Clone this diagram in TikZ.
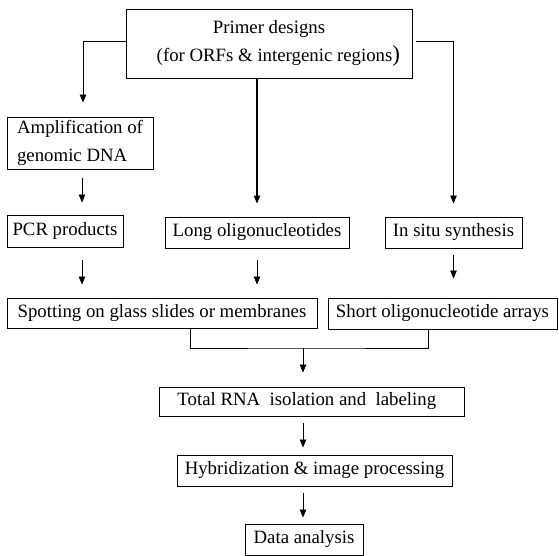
\documentclass[tikz,border=0pt]{standalone}
\usepackage{fontspec}
\setmainfont{Liberation Serif}
\usetikzlibrary{arrows.meta, calc}

\tikzset{
	box/.style={draw, line width=0.9pt, inner sep=0pt, align=center, font=\fontsize{18.8}{28}\selectfont},
	flow/.style={line width=0.8pt, -{Triangle[length=8pt,width=6.5pt]}},
	link/.style={line width=0.8pt}
}

\begin{document}
\begin{tikzpicture}[x=1pt,y=-1pt]

	\useasboundingbox (0,0) rectangle (559,556);

	\node [box, minimum width=286pt, minimum height=69pt] (primer) at (269,43.5) {Primer designs\\ \ \ \ \ (for ORFs \& intergenic regions{\fontsize{23}{28}\selectfont)}};
	\node [box, align=left, minimum width=146pt, minimum height=52pt] (amp) at (80,143) {Amplification of\\genomic DNA};
	\node [box, minimum width=116pt, minimum height=32pt] (pcr) at (65,231) {PCR products};
	\node [box, minimum width=184pt, minimum height=31pt] (long) at (257,232.5) {Long oligonucleotides};
	\node [box, minimum width=137pt, minimum height=31pt] (insitu) at (453.5,232.5) {In situ synthesis};
	\node [box, minimum width=310pt, minimum height=30pt] (spot) at (162,313) {Spotting on glass slides or membranes};
	\node [box, minimum width=229pt, minimum height=31pt] (short) at (442.5,313.5) {Short oligonucleotide arrays};
	\node [box, minimum width=305pt, minimum height=29pt] (rna) at (311.5,401.5) {Total RNA\ \ isolation and\ \ labeling\ \ };
	\node [box, minimum width=275pt, minimum height=31pt] (hyb) at (314.5,470.5) {Hybridization \& image processing};
	\node [box, minimum width=118pt, minimum height=31pt] (data) at (304,539.5) {Data analysis};

	\coordinate (jn) at (303,348);

	% from the primer designs
	\draw [flow, shorten >=14pt] ($(primer.west)+(0,-2.5)$) -| ($(amp.north)+(3,0)$);
	\draw [flow, line width=1.1pt, shorten >=13pt] (primer.south -| long.north) -- (long.north);
	\draw [flow, shorten >=13pt] ($(primer.east)+(4,-2.5)$) -| (insitu.north);

	% left column
	\draw [flow, shorten <=9pt, shorten >=12pt] ($(amp.south)+(2,0)$) -- ($(amp.south |- pcr.north)+(2,0)$);
	\draw [flow, shorten <=13pt, shorten >=13pt] ($(amp.south |- pcr.south)+(2,0)$) -- ($(amp.south |- spot.north)+(2,0)$);

	% middle and right columns
	\draw [flow, shorten <=12pt, shorten >=13pt] (long.south) -- (long.south |- spot.north);
	\draw [flow, shorten <=7pt, shorten >=19pt] (insitu.south) -- (insitu.south |- short.north);

	% join
	\draw [link] ($(spot.south)+(28,0)$) |- (jn) -| ($(short.south)+(-14.5,0)$);
	\draw [flow, shorten >=14pt] (jn) -- (jn |- rna.north);
	\draw [flow, shorten <=7pt, shorten >=7pt] (jn |- rna.south) -- (jn |- hyb.north);
	\draw [flow, shorten <=7pt, shorten >=6pt] (jn |- hyb.south) -- (jn |- data.north);

\end{tikzpicture}
\end{document}
